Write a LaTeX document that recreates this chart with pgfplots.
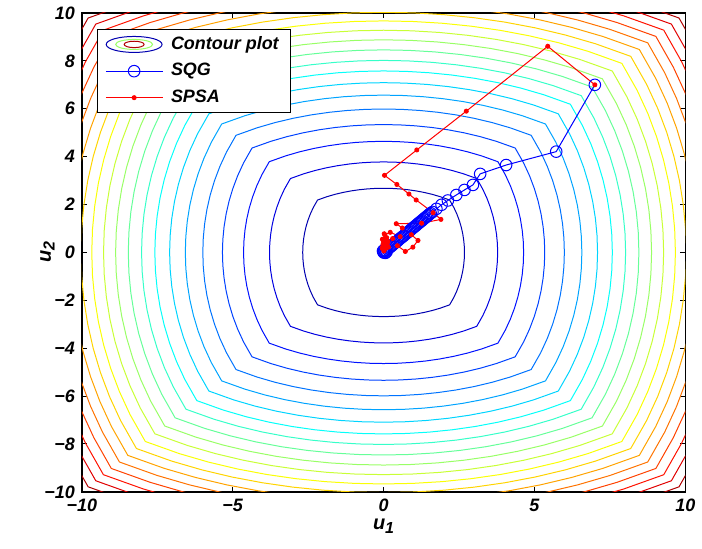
\documentclass[border=0pt]{standalone}
\usepackage{fontspec}
\setmainfont{Liberation Sans}
\usepackage{pgfplots}
\usepackage{pgfplotstable}
\pgfplotsset{compat=1.18}

% jet colours of the twenty contour levels, inside to outside
\definecolor{c1}{rgb}{0,0,0.69}
\definecolor{c2}{rgb}{0,0,0.88}
\definecolor{c3}{rgb}{0,0.07,1}
\definecolor{c4}{rgb}{0,0.26,1}
\definecolor{c5}{rgb}{0,0.45,1}
\definecolor{c6}{rgb}{0,0.64,1}
\definecolor{c7}{rgb}{0,0.83,1}
\definecolor{c8}{rgb}{0.02,1,0.98}
\definecolor{c9}{rgb}{0.21,1,0.79}
\definecolor{c10}{rgb}{0.40,1,0.60}
\definecolor{c11}{rgb}{0.60,1,0.40}
\definecolor{c12}{rgb}{0.79,1,0.21}
\definecolor{c13}{rgb}{0.98,1,0.02}
\definecolor{c14}{rgb}{1,0.83,0}
\definecolor{c15}{rgb}{1,0.64,0}
\definecolor{c16}{rgb}{1,0.45,0}
\definecolor{c17}{rgb}{1,0.26,0}
\definecolor{c18}{rgb}{1,0.07,0}
\definecolor{c19}{rgb}{0.88,0,0}
\definecolor{c20}{rgb}{0.69,0,0}

% level curve of unit half-width (closed loop)
\pgfplotstableread{
x y
1 0
0.9975 0.1
0.98995 0.2
0.97724 0.3
0.95917 0.4
0.93541 0.5
0.90554 0.6
0.86891 0.7
0.8165 0.8165
0.7 0.86891
0.6 0.90554
0.5 0.93541
0.4 0.95917
0.3 0.97724
0.2 0.98995
0.1 0.9975
0 1
-0.1 0.9975
-0.2 0.98995
-0.3 0.97724
-0.4 0.95917
-0.5 0.93541
-0.6 0.90554
-0.7 0.86891
-0.8165 0.8165
-0.86891 0.7
-0.90554 0.6
-0.93541 0.5
-0.95917 0.4
-0.97724 0.3
-0.98995 0.2
-0.9975 0.1
-1 0
-0.9975 -0.1
-0.98995 -0.2
-0.97724 -0.3
-0.95917 -0.4
-0.93541 -0.5
-0.90554 -0.6
-0.86891 -0.7
-0.8165 -0.8165
-0.7 -0.86891
-0.6 -0.90554
-0.5 -0.93541
-0.4 -0.95917
-0.3 -0.97724
-0.2 -0.98995
-0.1 -0.9975
0 -1
0.1 -0.9975
0.2 -0.98995
0.3 -0.97724
0.4 -0.95917
0.5 -0.93541
0.6 -0.90554
0.7 -0.86891
0.8165 -0.8165
0.86891 -0.7
0.90554 -0.6
0.93541 -0.5
0.95917 -0.4
0.97724 -0.3
0.98995 -0.2
0.9975 -0.1
1 0
}\levelshape

% SQG iterates
\pgfplotstableread{
x y
7.00 7.00
5.72 4.21
4.06 3.65
3.20 3.28
2.96 2.82
2.68 2.61
2.41 2.40
2.13 2.17
1.92 1.99
1.75 1.82
1.62 1.69
1.56 1.64
1.52 1.60
1.48 1.55
1.44 1.51
1.40 1.47
1.36 1.43
1.32 1.39
1.28 1.34
1.24 1.30
1.20 1.26
1.16 1.22
1.12 1.18
1.08 1.13
1.04 1.09
1.00 1.05
0.96 1.01
0.92 0.97
0.88 0.92
0.84 0.88
0.80 0.84
0.76 0.80
0.72 0.76
0.68 0.71
0.64 0.67
0.60 0.63
0.56 0.59
0.52 0.55
0.48 0.50
0.44 0.46
0.40 0.42
0.36 0.38
0.32 0.34
0.28 0.29
0.24 0.25
0.20 0.21
0.16 0.17
0.12 0.13
0.08 0.08
0.04 0.04
0.00 0.00
0.06 -0.02
-0.02 0.06
0.10 0.03
0.02 0.10
0.01 0.01
}\sqg

% SPSA iterates
\pgfplotstableread{
x y
7.00 7.00
5.44 8.61
2.74 5.90
1.10 4.28
0.03 3.22
0.44 2.84
0.84 2.44
1.08 2.19
1.64 1.66
1.90 1.38
1.26 1.22
0.42 1.20
0.62 1.02
0.92 0.74
1.14 0.50
0.97 0.22
0.72 0.04
0.46 0.28
0.30 0.58
0.55 0.66
0.22 0.84
0.04 0.74
0.02 0.78
0.10 0.62
-0.04 0.55
0.14 0.44
0.00 0.38
0.12 0.50
-0.02 0.34
0.16 0.22
0.06 0.60
-0.04 0.16
0.10 0.40
0.12 0.30
-0.03 0.24
0.08 0.18
0.02 0.10
0.08 0.28
0.00 0.46
0.03 0.20
0.01 0.06
}\spsa

\newcommand{\lvl}[2]{%
  \addplot[#1, line width=0.5pt, forget plot]
    table[x expr=#2*\thisrow{x}, y expr=#2*\thisrow{y}] {\levelshape};}
\newcommand{\sub}[1]{\raisebox{-0.35ex}{\fontsize{8}{9}\selectfont #1}}

\begin{document}
\begin{tikzpicture}
\begin{axis}[
  name=ax,
  scale only axis,
  width=302.5pt, height=240pt,
  xmin=-10, xmax=10, ymin=-10, ymax=10,
  xtick={-10,-5,0,5,10},
  xticklabels={−10,−5,0,5,10},
  ytick={-10,-8,-6,-4,-2,0,2,4,6,8,10},
  yticklabels={−10,−8,−6,−4,−2,0,2,4,6,8,10},
  tick align=inside,
  major tick length=2.5pt,
  tick style={black, line width=0.5pt},
  axis line style={black, line width=0.75pt},
  ticklabel style={font=\fontsize{9}{10}\selectfont\bfseries\itshape},
  label style={font=\fontsize{10}{11}\selectfont\bfseries\itshape},
  xlabel={u\sub{1}},
  ylabel={u\sub{2}},
  xlabel shift=-3pt,
  ylabel shift=-12pt,
  legend style={at={(axis description cs:0.0248,0.9667)}, anchor=north west,
    draw=black, line width=0.5pt, fill=white,
    font=\fontsize{9}{10}\selectfont\bfseries\itshape,
    inner xsep=4pt, inner ysep=1.5pt, row sep=1.5pt},
  legend cell align=left,
  /tikz/every odd column/.append style={column sep=2pt},
  legend image code/.code={%
    \draw[mark repeat=2, mark phase=2] plot coordinates {(0cm,0cm) (0.5cm,0cm) (1cm,0cm)};},
]
\addlegendimage{legend image code/.code={%
  \draw[c1, line width=0.5pt] (0.5cm,0cm) ellipse (14pt and 4pt);
  \draw[c11, line width=0.5pt] (0.5cm,0cm) ellipse (9.25pt and 2.5pt);
  \draw[c20, line width=0.5pt] (0.5cm,0cm) ellipse (5pt and 1.6pt);}}
\addlegendentry{Contour plot}

\lvl{c1}{2.68}
\lvl{c2}{3.78}
\lvl{c3}{4.64}
\lvl{c4}{5.34}
\lvl{c5}{5.99}
\lvl{c6}{6.57}
\lvl{c7}{7.09}
\lvl{c8}{7.58}
\lvl{c9}{8.02}
\lvl{c10}{8.46}
\lvl{c11}{8.88}
\lvl{c12}{9.28}
\lvl{c13}{9.67}
\lvl{c14}{10.03}
\lvl{c15}{10.38}
\lvl{c16}{10.72}
\lvl{c17}{11.05}
\lvl{c18}{11.37}
\lvl{c19}{11.68}
\lvl{c20}{11.99}

\addplot[blue, line width=0.5pt, mark=o, mark size=2.9pt,
  mark options={line width=0.5pt}] table {\sqg};
\addlegendentry{SQG}

\addplot[red, line width=0.5pt, mark=*, mark size=1pt] table {\spsa};
\addlegendentry{SPSA}
\end{axis}
\path ([shift={(-41pt,-28.5pt)}]ax.south west) rectangle ([shift={(7.5pt,5.5pt)}]ax.north east);
\end{tikzpicture}
\end{document}
